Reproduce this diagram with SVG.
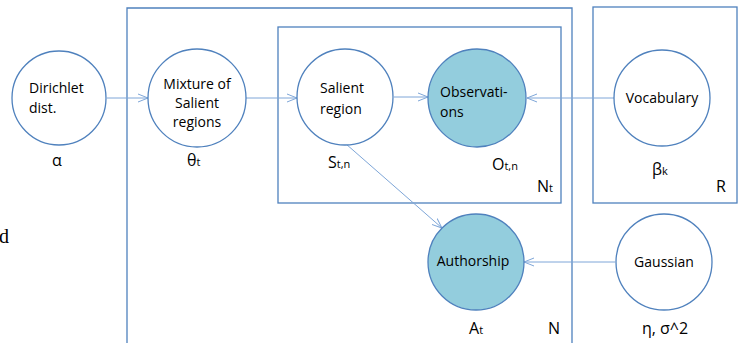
<svg xmlns="http://www.w3.org/2000/svg" width="743" height="343" viewBox="0 0 743 343">
<defs>
<style>
.node{fill:#ffffff;stroke:#4F81BD;stroke-width:1.3}
.obs{fill:#93CDDD;stroke:#4F81BD;stroke-width:1.3}
.plate{fill:none;stroke:#4F81BD;stroke-width:1.3}
.edge{stroke:#7EA6D8;stroke-width:1;fill:none;marker-end:url(#arr)}
.t{font-family:"Open Sans","Liberation Sans",sans-serif;font-size:14px;fill:#000}
.l{font-family:"Open Sans","Liberation Sans",sans-serif;font-size:16px;fill:#000}
.s{font-size:11px}
</style>
<marker id="arr" viewBox="0 0 10 10" refX="10" refY="5" markerWidth="10" markerHeight="10" markerUnits="userSpaceOnUse" orient="auto">
<path d="M0,1 L10,5 L0,9" fill="none" stroke="#7EA6D8" stroke-width="1"/>
</marker>
</defs>
<rect width="743" height="343" fill="#ffffff"/>
<g id="plates">
<path class="plate" d="M127,344 V8 H572 V344"/>
<rect class="plate" x="278" y="27" width="283" height="176"/>
<rect class="plate" x="593" y="7" width="144" height="196"/>
<text class="l" x="537" y="192">N<tspan class="s">t</tspan></text>
<text class="l" x="716" y="192">R</text>
<text class="l" x="548" y="334">N</text>
</g>
<g id="connectors">
<line class="edge" x1="107" y1="98" x2="148" y2="98"/>
<line class="edge" x1="246" y1="98" x2="297" y2="98"/>
<line class="edge" x1="394" y1="97" x2="428" y2="97"/>
<line class="edge" x1="614" y1="98" x2="527" y2="98"/>
<line class="edge" x1="346" y1="144" x2="442" y2="228"/>
<line class="edge" x1="615" y1="262" x2="524" y2="262"/>
</g>
<g id="dirichlet">
<circle class="node" cx="59" cy="98" r="47"/>
<text class="t" x="29" y="93">Dirichlet</text>
<text class="t" x="29" y="113">dist.</text>
<text class="l" x="52" y="166">α</text>
</g>
<g id="mixture">
<circle class="node" cx="197" cy="98" r="49"/>
<text class="t" x="197" y="89" text-anchor="middle">Mixture of</text>
<text class="t" x="197" y="108" text-anchor="middle">Salient</text>
<text class="t" x="197" y="127" text-anchor="middle">regions</text>
<text class="l" x="187" y="166">θ<tspan class="s">t</tspan></text>
</g>
<g id="salient">
<circle class="node" cx="345" cy="97" r="48"/>
<text class="t" x="320" y="93">Salient</text>
<text class="t" x="320" y="114">region</text>
<text class="l" x="328" y="168">S<tspan class="s">t,n</tspan></text>
</g>
<g id="observations">
<circle class="obs" cx="477" cy="98" r="49"/>
<text class="t" x="440" y="97">Observati-</text>
<text class="t" x="440" y="117">ons</text>
<text class="l" x="492" y="170">O<tspan class="s">t,n</tspan></text>
</g>
<g id="vocabulary">
<circle class="node" cx="662" cy="98" r="48"/>
<text class="t" x="662" y="103" text-anchor="middle">Vocabulary</text>
<text class="l" x="652" y="175">β<tspan class="s">k</tspan></text>
</g>
<g id="authorship">
<circle class="obs" cx="476" cy="262" r="48"/>
<text class="t" x="473" y="266" text-anchor="middle">Authorship</text>
<text class="l" x="469" y="334">A<tspan class="s">t</tspan></text>
</g>
<g id="gaussian">
<circle class="node" cx="664" cy="262" r="48"/>
<text class="t" x="664" y="267" text-anchor="middle">Gaussian</text>
<text class="l" x="665" y="334" text-anchor="middle">η, σ^2</text>
</g>
<text x="-1" y="243" font-family="'Liberation Serif',serif" font-size="20" fill="#000">d</text>
</svg>
